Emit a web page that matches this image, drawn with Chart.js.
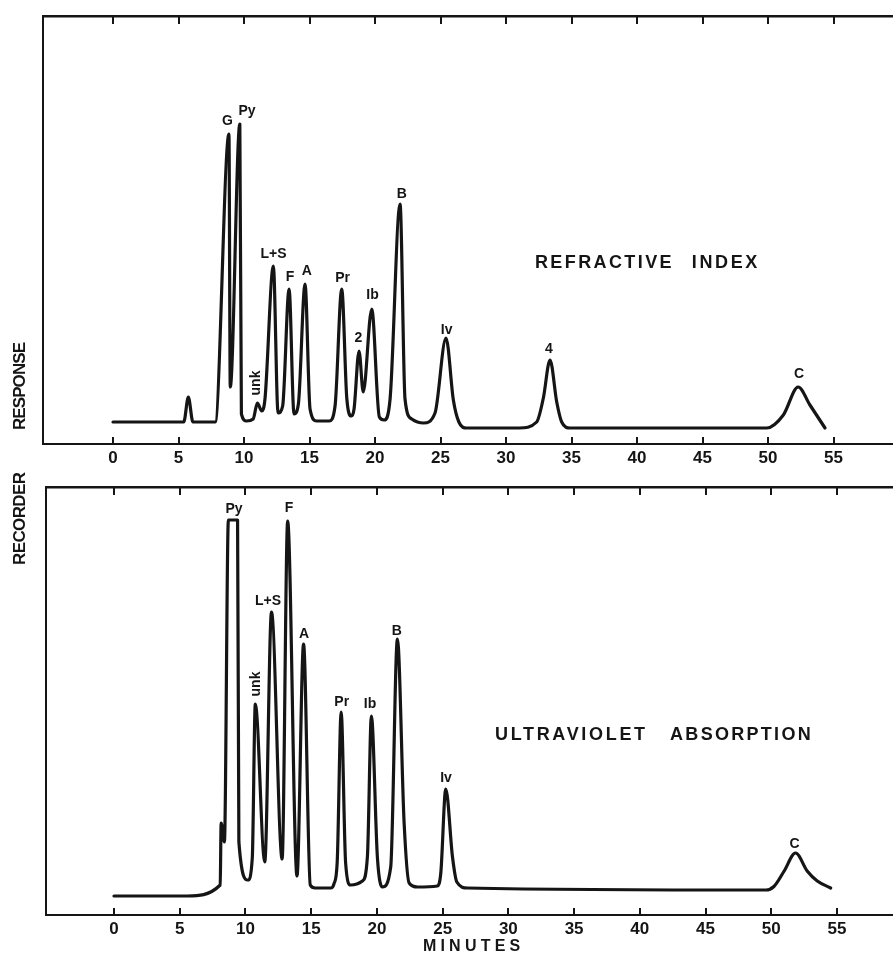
<!DOCTYPE html>
<html><head><meta charset="utf-8">
<script src="https://cdn.jsdelivr.net/npm/chart.js@4.4.1/dist/chart.umd.min.js"></script>
<style>
html,body{margin:0;padding:0;background:#fff;}
#wrap{position:relative;width:893px;height:955px;overflow:hidden;background:#fff;}
canvas{position:absolute;left:0;}
#c1{top:0;}
#c2{top:471px;}
</style></head><body>
<div id="wrap"><canvas id="c1" width="893" height="600"></canvas><canvas id="c2" width="893" height="484"></canvas></div>
<script>
// ---- data (minutes vs recorder response) ----
const minuteTicks = [0, 5, 10, 15, 20, 25, 30, 35, 40, 45, 50, 55];

const riTimes = [0, 5.4, 5.75, 6.1, 7.8, 8.85, 8.95, 9.68, 9.8, 10.2, 10.7, 11.02, 11.35, 11.6, 12.24, 12.6, 12.95, 13.44, 13.82, 14.15, 14.66, 15.04, 15.55, 16.5, 16.95, 17.46, 17.85, 18.2, 18.4, 18.78, 19.1, 19.75, 20.33, 20.7, 21.15, 21.91, 22.29, 22.8, 23.7, 24.58, 25.42, 25.98, 26.4, 27.0, 31.0, 32.34, 32.85, 33.36, 33.87, 34.25, 34.9, 49.9, 51.17, 52.3, 53.2, 54.35];
const riResponse = [22, 22, 47, 22, 22, 310, 57, 320, 30, 23, 25, 41, 33, 45, 178, 31, 38, 155, 30, 40, 160, 35, 23, 23, 38, 155, 45, 28, 35, 93, 52, 135, 27, 24, 45, 240, 45, 25, 21, 31, 106, 44, 22, 16, 16, 22, 46, 84, 42, 22, 16, 16, 29, 57, 39, 16];

const uvTimes = [0, 5.56, 8.08, 8.15, 8.4, 8.7, 9.4, 9.5, 10.18, 10.52, 10.75, 11.47, 11.98, 12.79, 13.21, 13.92, 14.42, 14.93, 15.3, 16.5, 16.73, 16.98, 17.28, 17.62, 18.0, 18.9, 19.28, 19.58, 20.04, 20.42, 21.05, 21.56, 22.07, 22.45, 23.09, 24.6, 24.86, 25.24, 25.75, 26.08, 26.9, 49.6, 50.2, 50.96, 51.85, 52.73, 53.5, 54.52];
const uvResponse = [19, 19, 30, 92, 73, 395, 395, 73, 35, 57, 211, 53, 303, 56, 394, 39, 271, 30, 27, 27, 31, 53, 203, 52, 30, 34, 59, 199, 57, 28, 48, 276, 92, 32, 28, 29, 42, 126, 58, 33, 27, 25, 28.5, 43.5, 62, 44, 34, 27];

const riPeakNames = ['G', 'Py', 'unk', 'L+S', 'F', 'A', 'Pr', '2', 'Ib', 'B', 'Iv', '4', 'C'];
const riPeakTimes = [8.74, 10.23, 10.92, 12.25, 13.51, 14.79, 17.52, 18.73, 19.81, 22.04, 25.47, 33.28, 52.37];
const riPeakResponse = [323, 333, 61, 190, 167, 173, 166, 106, 149, 250, 114, 95, 70];

const uvPeakNames = ['Py', 'unk', 'L+S', 'F', 'A', 'Pr', 'Ib', 'B', 'Iv', 'C'];
const uvPeakTimes = [9.13, 10.79, 11.72, 13.31, 14.45, 17.32, 19.48, 21.51, 25.26, 51.78];
const uvPeakResponse = [406, 231, 314, 407, 281, 213, 211, 284, 137, 71];

// ---- drawing ----
const INK = '#151515';
const FONT = '"Liberation Sans", Arial, Helvetica, sans-serif';

function spacedText(ctx, text, x0, x1, yc, font) {
  ctx.save();
  ctx.font = font;
  ctx.letterSpacing = '0px';
  const w = ctx.measureText(text).width;
  const n = text.length;
  const ls = n > 1 ? (x1 - x0 - w) / (n - 1) : 0;
  ctx.letterSpacing = ls.toFixed(2) + 'px';
  ctx.textAlign = 'left';
  ctx.textBaseline = 'middle';
  ctx.fillText(text, x0, yc);
  ctx.restore();
}

const chromPlugin = {
  id: 'chrom',
  afterDraw(chart, args, o) {
    const ctx = chart.ctx, xs = chart.scales.x, ys = chart.scales.y, area = chart.chartArea;
    ctx.save();
    ctx.strokeStyle = INK; ctx.fillStyle = INK; ctx.lineWidth = 2;
    xs.ticks.forEach(t => {
      const px = Math.round(xs.getPixelForValue(t.value));
      ctx.beginPath();
      ctx.moveTo(px, area.bottom - 7); ctx.lineTo(px, area.bottom + 1);
      ctx.moveTo(px, area.top); ctx.lineTo(px, area.top + 8);
      ctx.stroke();
    });
    ctx.font = 'bold 14px ' + FONT;
    ctx.textAlign = 'center'; ctx.textBaseline = 'middle';
    o.names.forEach((n, i) => {
      const px = xs.getPixelForValue(o.times[i]), py = ys.getPixelForValue(o.resp[i]);
      if (n === 'unk') {
        ctx.save(); ctx.translate(px, py); ctx.rotate(-Math.PI / 2); ctx.fillText(n, 0, 0); ctx.restore();
      } else {
        ctx.fillText(n, px, py);
      }
    });
    (o.words || []).forEach(w => spacedText(ctx, w.text, xs.getPixelForValue(w.from), xs.getPixelForValue(w.to), ys.getPixelForValue(w.resp), 'bold 18px ' + FONT));
    if (o.minutes) {
      spacedText(ctx, 'MINUTES', xs.getPixelForValue(o.minutes.from), xs.getPixelForValue(o.minutes.to), area.bottom + 32, 'bold 16px ' + FONT);
    }
    if (o.vertical) {
      o.vertical.forEach(v => {
        ctx.save();
        ctx.translate(v.x, v.y1);
        ctx.rotate(-Math.PI / 2);
        spacedText(ctx, v.text, 0, v.y1 - v.y0, 0, 'bold 17px ' + FONT);
        ctx.restore();
      });
    }
    ctx.restore();
  }
};

function makeChart(id, times, resp, xMin, xMax, pad, labelOpts) {
  return new Chart(document.getElementById(id), {
    type: 'line',
    data: {
      datasets: [{
        data: times.map((t, i) => ({ x: t, y: resp[i] })),
        borderColor: INK, borderWidth: 3.2, pointRadius: 0,
        cubicInterpolationMode: 'monotone', borderJoinStyle: 'round', borderCapStyle: 'round', fill: false
      }]
    },
    options: {
      responsive: false, animation: false, devicePixelRatio: 1,
      layout: { padding: pad },
      plugins: { legend: { display: false }, tooltip: { enabled: false }, chrom: labelOpts },
      scales: {
        x: {
          type: 'linear', position: 'bottom', min: xMin, max: xMax,
          afterBuildTicks: s => { s.ticks = minuteTicks.map(v => ({ value: v })); },
          afterFit: s => { s.height = 30; },
          grid: { display: false },
          border: { display: true, color: INK, width: 2 },
          ticks: { color: INK, padding: -4, font: { family: FONT, size: 17, weight: 'bold' }, maxRotation: 0, autoSkip: false }
        },
        x2: {
          type: 'linear', position: 'top', min: xMin, max: xMax,
          afterFit: s => { s.height = 0; },
          grid: { display: false },
          border: { display: true, color: INK, width: 2.5 },
          ticks: { display: false }
        },
        y: {
          type: 'linear', min: 0, max: 428,
          afterFit: s => { s.width = 0; },
          grid: { display: false },
          border: { display: true, color: INK, width: 2 },
          ticks: { display: false }
        }
      }
    },
    plugins: [chromPlugin]
  });
}

makeChart('c1', riTimes, riResponse, -5.344, 59.54, { left: 43, top: 16, right: 0, bottom: 126 }, {
  names: riPeakNames, times: riPeakTimes, resp: riPeakResponse,
  words: [{ text: 'REFRACTIVE', from: 32.21, to: 42.64, resp: 181 }, { text: 'INDEX', from: 44.18, to: 49.18, resp: 181 }],
  vertical: [{ text: 'RESPONSE', x: 20, y0: 342, y1: 430 }, { text: 'RECORDER', x: 20, y0: 472, y1: 565 }]
});

makeChart('c2', uvTimes, uvResponse, -5.173, 59.26, { left: 46, top: 16, right: 0, bottom: 10 }, {
  names: uvPeakNames, times: uvPeakTimes, resp: uvPeakResponse,
  words: [{ text: 'ULTRAVIOLET', from: 28.98, to: 40.4, resp: 180 }, { text: 'ABSORPTION', from: 42.3, to: 53.0, resp: 180 }],
  minutes: { from: 23.5, to: 30.9 }
});
</script>
</body></html>
